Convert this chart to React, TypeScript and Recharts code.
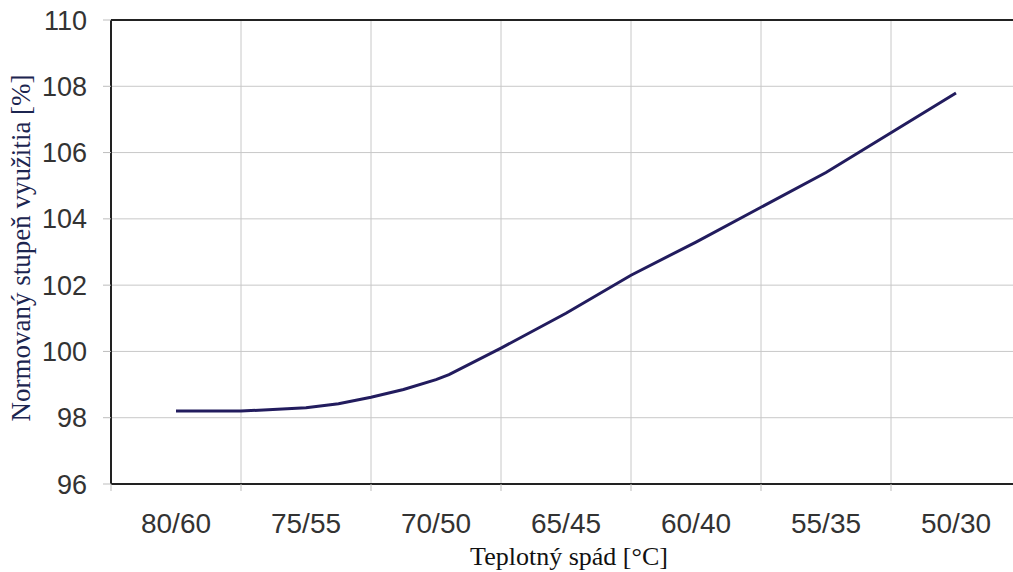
import React from "react";
import { LineChart, Line, XAxis, YAxis, CartesianGrid, ReferenceLine } from "recharts";

const categories = ["80/60", "75/55", "70/50", "65/45", "60/40", "55/35", "50/30"];
// positions along the category axis (0.5 = centre of first category)
const xPositions = [0.5, 1.0, 1.5, 1.75, 2.0, 2.25, 2.5, 2.6, 3.0, 3.5, 4.0, 4.5, 5.0, 5.5, 6.0, 6.5];
const efficiency = [98.2, 98.2, 98.3, 98.42, 98.62, 98.85, 99.15, 99.3, 100.1, 101.15, 102.3, 103.3, 104.35, 105.4, 106.6, 107.8];
const yTicks = [96, 98, 100, 102, 104, 106, 108, 110];
const boundaries = [1, 2, 3, 4, 5, 6];

const data = xPositions.map((x, i) => ({ x, y: efficiency[i] }));
const xTicks: number[] = [];
for (let i = 0; i <= categories.length; i++) {
  xTicks.push(i);
  if (i < categories.length) xTicks.push(i + 0.5);
}

const XTick = (props: any) => {
  const { x, y, payload } = props;
  const v = payload.value as number;
  if (Number.isInteger(v)) {
    return <line x1={x} x2={x} y1={y} y2={y + 7} stroke="#bdbdbd" strokeWidth={1} />;
  }
  const label = categories[Math.floor(v)];
  return (
    <text x={x} y={y + 49} textAnchor="middle" fill="#333" fontSize={28} fontFamily="'Liberation Sans', Arial, sans-serif">
      {label}
    </text>
  );
};

export default function App() {
  return (
    <div style={{ position: "absolute", left: 0, top: 0, width: 1013, height: 572, overflow: "hidden", background: "#fff" }}>
      <LineChart width={1030} height={572} data={data} margin={{ top: 20, right: 9, bottom: 0, left: 0 }}>
        <CartesianGrid vertical={false} stroke="#c8c8c8" strokeWidth={1} />
        {boundaries.map((b) => (
          <ReferenceLine key={b} x={b} stroke="#c8c8c8" strokeWidth={1} />
        ))}
        <ReferenceLine y={110} stroke="#222" strokeWidth={2} />
        <XAxis
          type="number"
          dataKey="x"
          domain={[0, 7]}
          ticks={xTicks}
          interval={0}
          height={88}
          tickLine={false}
          tickSize={0}
          tickMargin={0}
          axisLine={{ stroke: "#222", strokeWidth: 2 }}
          tick={<XTick />}
          label={{
            content: () => (
              <text x={569} y={565} textAnchor="middle" fill="#111" fontSize={26} fontFamily="'Liberation Serif', 'Times New Roman', serif">
                Teplotný spád [°C]
              </text>
            ),
          }}
        />
        <YAxis
          type="number"
          domain={[96, 110]}
          ticks={yTicks}
          interval={0}
          width={111}
          tickSize={8}
          tickMargin={16}
          tickLine={{ stroke: "#bdbdbd" }}
          axisLine={{ stroke: "#222", strokeWidth: 2 }}
          tick={{ fill: "#333", fontSize: 27, fontFamily: "'Liberation Sans', Arial, sans-serif" }}
          label={{
            content: () => (
              <text
                x={21}
                y={248}
                transform="rotate(-90 21 248)"
                textAnchor="middle"
                dominantBaseline="central"
                fill="#1c2550"
                fontSize={27}
                fontFamily="'Liberation Serif', 'Times New Roman', serif"
              >
                Normovaný stupeň využitia [%]
              </text>
            ),
          }}
        />
        <Line type="linear" dataKey="y" stroke="#221c5e" strokeWidth={3} dot={false} isAnimationActive={false} />
      </LineChart>
    </div>
  );
}
